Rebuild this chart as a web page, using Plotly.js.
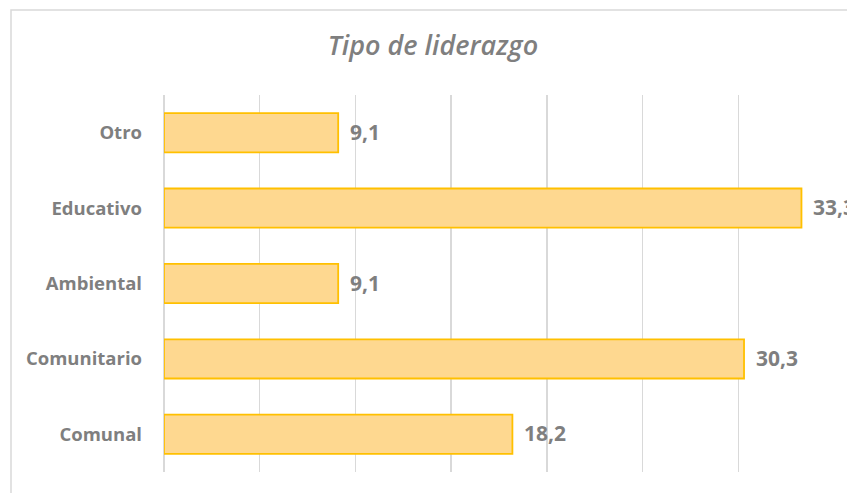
<!DOCTYPE html>
<html>
<head>
<meta charset="utf-8">
<script src="https://cdn.plot.ly/plotly-3.0.1.min.js"></script>
<style>html,body{margin:0;padding:0;background:#fff;}#chart{width:847px;height:493px;}</style>
</head>
<body>
<div id="chart"></div>
<script>
const categories = ['Comunal', 'Comunitario', 'Ambiental', 'Educativo', 'Otro'];
const values = [18.2, 30.3, 9.1, 33.3, 9.1];
const valueLabels = ['18,2', '30,3', '9,1', '33,3', '9,1'];
const titleText = 'Tipo de liderazgo';

const gray = '#7f7f7f';

const trace = {
  type: 'bar',
  orientation: 'h',
  y: categories,
  x: values,
  marker: { color: '#fed890', line: { color: '#ffc000', width: 1.8 } },
  hoverinfo: 'none'
};

const annotations = categories.map((c, i) => ({
  x: values[i], y: c, xref: 'x', yref: 'y',
  text: valueLabels[i], showarrow: false,
  xanchor: 'left', yanchor: 'middle', xshift: 10, yshift: 1,
  font: { family: 'Open Sans', size: 21, color: gray, weight: 'bold' }
}));

const layout = {
  width: 847, height: 493,
  margin: { l: 164, r: 13, t: 95, b: 21, pad: 0 },
  paper_bgcolor: '#ffffff', plot_bgcolor: '#ffffff',
  showlegend: false,
  bargap: 0.48,
  title: {
    text: titleText,
    x: 433 / 847, xref: 'container', xanchor: 'center',
    y: 1 - 46 / 493, yref: 'container', yanchor: 'middle',
    font: { family: 'Open Sans', size: 27, color: gray, style: 'italic', weight: 600 }
  },
  xaxis: {
    range: [0, 35], dtick: 5, tick0: 0,
    showgrid: true, gridcolor: '#d9d9d9', gridwidth: 1.3,
    zeroline: true, zerolinecolor: '#d9d9d9', zerolinewidth: 1.3,
    showticklabels: false, ticks: '', showline: false, fixedrange: true
  },
  yaxis: {
    type: 'category', ticks: '', showline: false, showgrid: false,
    ticklabelstandoff: 21,
    tickfont: { family: 'Open Sans', size: 18.5, color: gray, weight: 'bold' },
    fixedrange: true
  },
  annotations: annotations,
  shapes: [{
    type: 'rect', xref: 'paper', yref: 'paper',
    x0: (11 - 164) / 670, x1: 3, y0: -1, y1: (472 - 10) / 377,
    line: { color: '#d9d9d9', width: 1.5 }, fillcolor: 'rgba(0,0,0,0)', layer: 'below'
  }]
};

Plotly.newPlot('chart', [trace], layout, { displayModeBar: false, staticPlot: true });
</script>
</body>
</html>
